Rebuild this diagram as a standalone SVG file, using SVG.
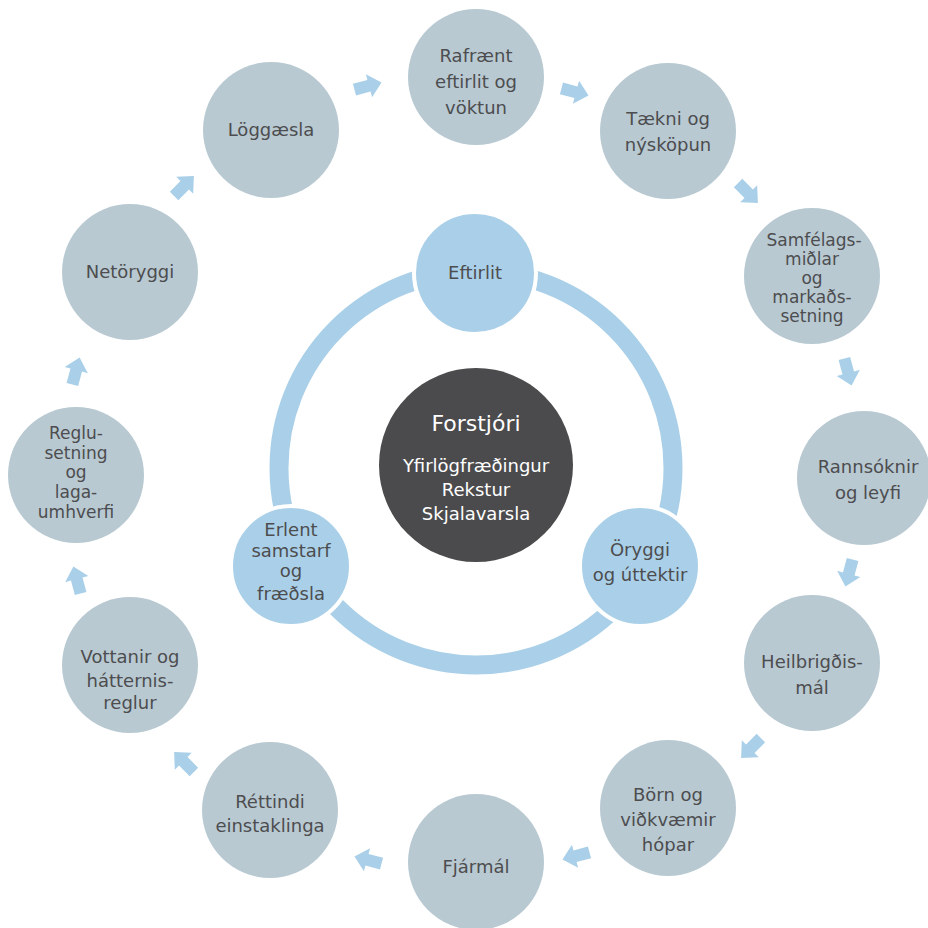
<svg xmlns="http://www.w3.org/2000/svg" width="928" height="928" viewBox="0 0 928 928">
<defs>
<style>
.outer{fill:#b8c9d2}
.inner{fill:#aad0e9;stroke:#ffffff;stroke-width:4}
.arrow{fill:#aad0e9}
text{font-family:"DejaVu Sans","Noto Sans","Liberation Sans",sans-serif;fill:#4d4d4f;text-anchor:middle;font-size:18px}
.sm{font-size:17px}
.ct{fill:#ffffff}
</style>
<polygon id="arr" points="-14,-6 1,-6 1,-12 14,0 1,12 1,6 -14,6"/>
</defs>
<rect width="928" height="928" fill="#ffffff"/>
<g id="connectors">
<circle cx="476" cy="468" r="197" fill="none" stroke="#aad0e9" stroke-width="19"/>
<use href="#arr" class="arrow" transform="translate(368,86) rotate(-15)"/>
<use href="#arr" class="arrow" transform="translate(575,92) rotate(15)"/>
<use href="#arr" class="arrow" transform="translate(748,193) rotate(45)"/>
<use href="#arr" class="arrow" transform="translate(848,372) rotate(75)"/>
<use href="#arr" class="arrow" transform="translate(849,573) rotate(105)"/>
<use href="#arr" class="arrow" transform="translate(751,748) rotate(135)"/>
<use href="#arr" class="arrow" transform="translate(576,856) rotate(165)"/>
<use href="#arr" class="arrow" transform="translate(368,860) rotate(195)"/>
<use href="#arr" class="arrow" transform="translate(184,762) rotate(225)"/>
<use href="#arr" class="arrow" transform="translate(77,580) rotate(255)"/>
<use href="#arr" class="arrow" transform="translate(76,371) rotate(285)"/>
<use href="#arr" class="arrow" transform="translate(184,186) rotate(315)"/>
</g>
<g id="forstjori">
<circle cx="476" cy="465" r="97" fill="#4b4b4d"/>
<text class="ct" x="476" y="431" style="font-size:22px">Forstjóri</text>
<text class="ct" x="476" y="472">Yfirlögfræðingur</text>
<text class="ct" x="476" y="496">Rekstur</text>
<text class="ct" x="476" y="520">Skjalavarsla</text>
</g>
<g id="eftirlit">
<circle class="inner" cx="475" cy="273" r="61"/>
<text x="475" y="279">Eftirlit</text>
</g>
<g id="oryggi">
<circle class="inner" cx="640" cy="566" r="60"/>
<text x="640" y="556">Öryggi</text>
<text x="640" y="581">og úttektir</text>
</g>
<g id="erlent">
<circle class="inner" cx="291" cy="566" r="60"/>
<text x="291" y="536">Erlent</text>
<text x="291" y="557">samstarf</text>
<text x="291" y="577">og</text>
<text x="291" y="600">fræðsla</text>
</g>
<g id="rafraent">
<circle class="outer" cx="476" cy="77" r="68"/>
<text x="476" y="62">Rafrænt</text>
<text x="476" y="88">eftirlit og</text>
<text x="476" y="114">vöktun</text>
</g>
<g id="taekni">
<circle class="outer" cx="668" cy="131" r="68"/>
<text x="668" y="125">Tækni og</text>
<text x="668" y="151">nýsköpun</text>
</g>
<g id="samfelagsmidlar">
<circle class="outer" cx="812" cy="276" r="68"/>
<text class="sm" x="814" y="246">Samfélags-</text>
<text class="sm" x="812" y="265">miðlar</text>
<text class="sm" x="812" y="284">og</text>
<text class="sm" x="812" y="303">markaðs-</text>
<text class="sm" x="812" y="322">setning</text>
</g>
<g id="rannsoknir">
<circle class="outer" cx="864" cy="478" r="67"/>
<text x="868" y="473">Rannsóknir</text>
<text x="868" y="499">og leyfi</text>
</g>
<g id="heilbrigdismal">
<circle class="outer" cx="812" cy="663" r="68"/>
<text x="812" y="668">Heilbrigðis-</text>
<text x="812" y="694">mál</text>
</g>
<g id="born">
<circle class="outer" cx="668" cy="808" r="68"/>
<text x="668" y="801">Börn og</text>
<text x="668" y="826">viðkvæmir</text>
<text x="668" y="851">hópar</text>
</g>
<g id="fjarmal">
<circle class="outer" cx="476" cy="862" r="68"/>
<text x="476" y="873">Fjármál</text>
</g>
<g id="rettindi">
<circle class="outer" cx="270" cy="810" r="68"/>
<text x="270" y="808">Réttindi</text>
<text x="270" y="832">einstaklinga</text>
</g>
<g id="vottanir">
<circle class="outer" cx="130" cy="665" r="68"/>
<text x="130" y="663">Vottanir og</text>
<text x="130" y="687">hátternis-</text>
<text x="130" y="709">reglur</text>
</g>
<g id="reglusetning">
<circle class="outer" cx="76" cy="475" r="68"/>
<text class="sm" x="76" y="439">Reglu-</text>
<text class="sm" x="76" y="459">setning</text>
<text class="sm" x="76" y="478">og</text>
<text class="sm" x="76" y="498">laga-</text>
<text class="sm" x="76" y="518">umhverfi</text>
</g>
<g id="netoryggi">
<circle class="outer" cx="130" cy="272" r="68"/>
<text x="130" y="278">Netöryggi</text>
</g>
<g id="loggaesla">
<circle class="outer" cx="271" cy="130" r="68"/>
<text x="271" y="136">Löggæsla</text>
</g>
</svg>
